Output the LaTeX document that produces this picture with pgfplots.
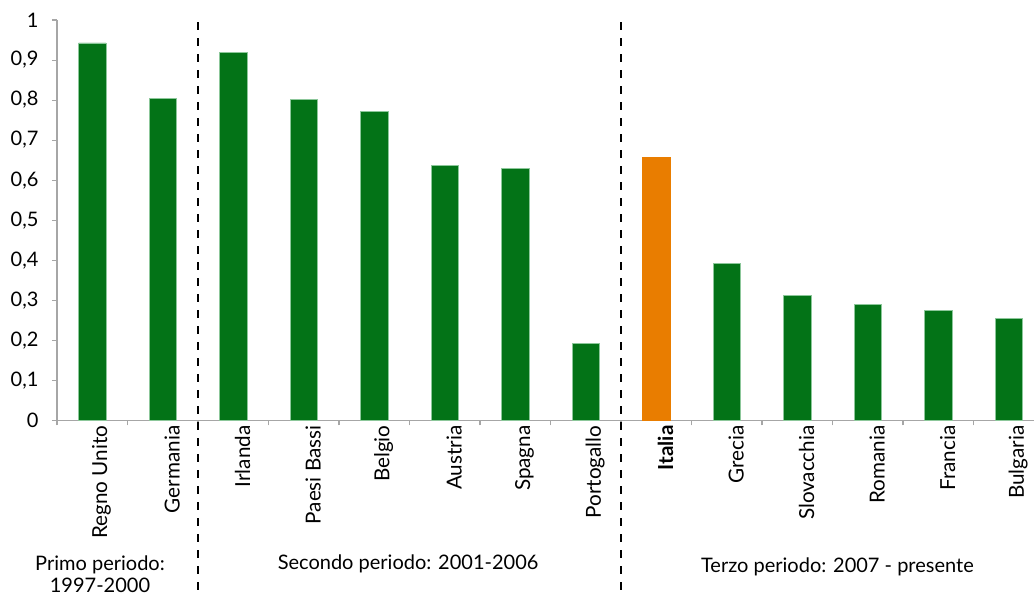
\documentclass[border=0pt]{standalone}
\usepackage{fontspec}
\setmainfont{Lato}
\usepackage{pgfplots}
\pgfplotsset{compat=1.18}
\definecolor{barg}{HTML}{037317}
\definecolor{barorange}{HTML}{E97D00}
\definecolor{bedge}{HTML}{8CC79A}
\definecolor{axgray}{HTML}{A6A6A6}
\newcommand{\lbl}{\fontsize{15pt}{16.8pt}\selectfont}
\newcommand{\xlbl}{\fontsize{15.5pt}{16.8pt}\selectfont}
\begin{document}
\begin{tikzpicture}
\useasboundingbox (0,0) rectangle (775.5pt,447pt);
\clip (0,0) rectangle (775.5pt,447pt);
\begin{axis}[
  at={(42.75pt,131.78pt)}, anchor=south west,
  scale only axis, width=740.25pt, height=300.2pt,
  xmin=-0.5, xmax=13.5, ymin=0, ymax=1,
  separate axis lines,
  axis x line*=bottom, axis y line*=left,
  x axis line style={-, draw=axgray, line width=0.8pt},
  y axis line style={-, draw=axgray, line width=0.8pt},
  ybar, bar width=20.5pt, bar shift=0pt,
  clip=false,
  tick align=outside,
  major tick length=3.75pt,
  minor tick length=3.75pt,
  ytick={0,0.1,0.2,0.3,0.4,0.5,0.6,0.7,0.8,0.9,1},
  yticklabels={0,{0,1},{0,2},{0,3},{0,4},{0,5},{0,6},{0,7},{0,8},{0,9},1},
  ytick style={draw=axgray, line width=0.8pt},
  yticklabel style={font=\lbl, anchor=east, inner sep=0pt, xshift=-10pt},
  xtick={0,1,2,3,4,5,6,7,8,9,10,11,12,13},
  xticklabels={Regno Unito,Germania,Irlanda,Paesi Bassi,Belgio,Austria,Spagna,Portogallo,\textbf{Italia},Grecia,Slovacchia,Romania,Francia,Bulgaria},
  major x tick style={draw=none},
  minor xtick={-0.5,0.5,1.5,2.5,3.5,4.5,5.5,6.5,7.5,8.5,9.5,10.5,11.5,12.5,13.5},
  minor x tick style={draw=axgray, line width=0.8pt},
  xticklabel style={font=\xlbl, rotate=90, anchor=east, inner sep=0pt, yshift=-7pt},
]
\addplot[fill=barg, draw=bedge, line width=0.5pt] coordinates {
  (0,0.943) (1,0.805) (2,0.919) (3,0.801) (4,0.771) (5,0.637) (6,0.630)
  (7,0.193) (9,0.392) (10,0.312) (11,0.290) (12,0.274) (13,0.255)};
\addplot[fill=barorange, draw=barorange, line width=0.5pt] coordinates {(8,0.658)};
\draw[black, line width=1.7pt, dash pattern=on 6pt off 6pt] (axis cs:1.5,0.995) -- (axis cs:1.5,-0.46);
\draw[black, line width=1.7pt, dash pattern=on 6pt off 6pt] (axis cs:7.5,0.995) -- (axis cs:7.5,-0.46);
\node[font=\lbl, align=center] at (axis cs:0.11,-0.385) {Primo periodo:\\1997-2000};
\node[font=\lbl] at (axis cs:4.48,-0.358) {Secondo periodo: 2001-2006};
\node[font=\lbl] at (axis cs:10.57,-0.365) {Terzo periodo: 2007 - presente};
\end{axis}
\end{tikzpicture}
\end{document}
